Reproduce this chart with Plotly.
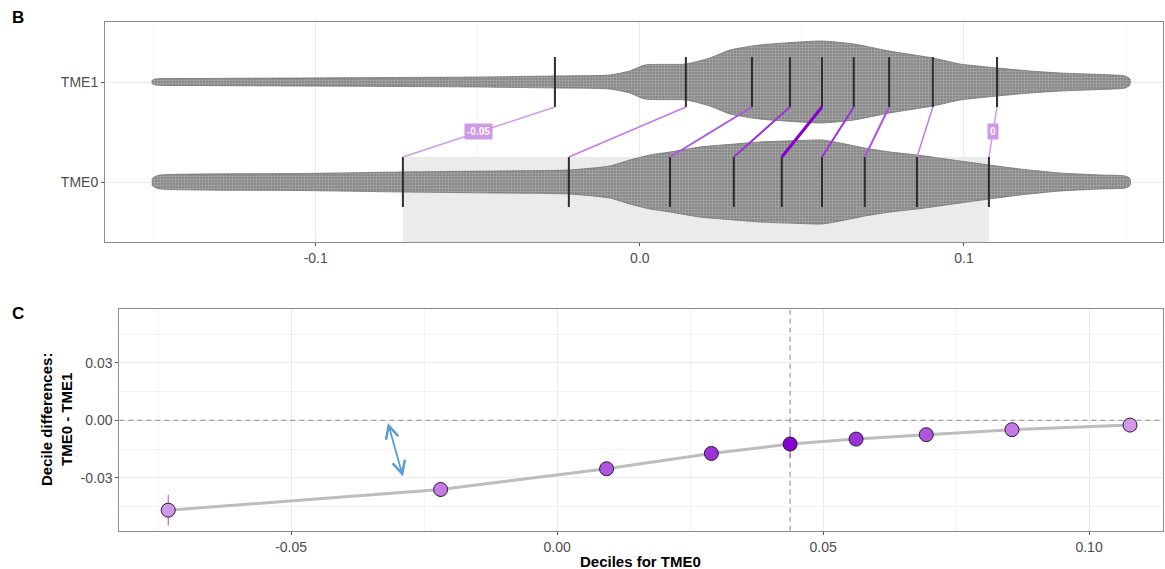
import plotly.graph_objects as go

# ---------------- data ----------------
decile_labels = ["1", "2", "3", "4", "5", "6", "7", "8", "9"]
tme0_deciles = [-0.0731, -0.0219, 0.0093, 0.0290, 0.0438, 0.0562, 0.0694, 0.0855, 0.1077]
tme1_deciles = [-0.0262, 0.0142, 0.0346, 0.0463, 0.0562, 0.0660, 0.0769, 0.0904, 0.1102]
ci_halfwidth = [0.008, 0.004, 0.003, 0.003, 0.007, 0.003, 0.003, 0.003, 0.003]
decile_colors = ['#D197E8', '#C47BE3', '#AE55DD', '#9B33D9', '#8500D1',
                 '#9B33D9', '#AE55DD', '#C47BE3', '#D197E8']
link_widths = [1.5, 1.5, 2, 2, 3, 2, 2, 1.5, 1.5]

groups = ["TME0", "TME1"]

# outline of the distributions (value, half-width in category units)
tme1_outline_x = [-0.1506, -0.1495, -0.1358, -0.1049, -0.0741, -0.0494, -0.0262, -0.0093, -0.0031,
                  0.0015, 0.0142, 0.0216, 0.0278, 0.0370, 0.0494, 0.0562, 0.0660, 0.0769,
                  0.0904, 0.0988, 0.1102, 0.1204, 0.1296, 0.1420, 0.1497, 0.1512]
tme1_outline_w = [0.015, 0.03, 0.035, 0.04, 0.045, 0.05, 0.06, 0.07, 0.11,
                  0.17, 0.18, 0.24, 0.32, 0.37, 0.40, 0.41, 0.38, 0.31,
                  0.24, 0.18, 0.14, 0.11, 0.09, 0.075, 0.06, 0.03]
tme0_outline_x = [-0.1506, -0.1495, -0.1480, -0.1358, -0.1049, -0.0731, -0.0432, -0.0219, -0.0093,
                  -0.0031, 0.0031, 0.0093, 0.0185, 0.0293, 0.0370, 0.0494, 0.0562, 0.0633,
                  0.0694, 0.0772, 0.0855, 0.0988, 0.1077, 0.1173, 0.1296, 0.1420, 0.1497, 0.1512]
tme0_outline_w = [0.03, 0.055, 0.07, 0.08, 0.085, 0.10, 0.11, 0.12, 0.16,
                  0.22, 0.27, 0.30, 0.35, 0.38, 0.40, 0.415, 0.42, 0.38,
                  0.34, 0.30, 0.27, 0.21, 0.17, 0.13, 0.09, 0.07, 0.06, 0.035]

decile_diff = [a - b for a, b in zip(tme0_deciles, tme1_deciles)]

# axis ranges
top_xrange = [-0.165, 0.1614]
top_yrange = [0.4, 2.6]
bot_xrange = [-0.0823, 0.1139]
bot_yrange = [-0.0576, 0.0579]

# ---------------- figure ----------------
fig = go.Figure()

FONT = "Liberation Sans, Arial, sans-serif"
TICK_FONT = dict(family=FONT, size=14, color="#4D4D4D")
GRID = "#EBEBEB"
MINOR = "#F4F4F4"
BORDER = "#8C8C8C"

# shaded rectangle between extreme TME0 deciles
fig.add_trace(go.Scatter(
    x=[tme0_deciles[0], tme0_deciles[-1], tme0_deciles[-1], tme0_deciles[0], tme0_deciles[0]],
    y=[top_yrange[0], top_yrange[0], 1.25, 1.25, top_yrange[0]],
    mode="lines", fill="toself", fillcolor="#EBEBEB", line=dict(width=0),
    hoverinfo="skip", showlegend=False, xaxis="x", yaxis="y"))


def blob(xs, ws, center):
    px = list(xs) + list(reversed(xs))
    py = [center + w for w in ws] + [center - w for w in reversed(ws)]
    return px, py


for xs, ws, c in [(tme1_outline_x, tme1_outline_w, 2), (tme0_outline_x, tme0_outline_w, 1)]:
    px, py = blob(xs, ws, c)
    fig.add_trace(go.Scatter(
        x=px, y=py, mode="lines", fill="toself",
        fillcolor="#8a8a8a",
        fillpattern=dict(shape=".", bgcolor="#7e7e7e", fgcolor="#d2d2d2", size=3, solidity=0.5),
        line=dict(color="#6e6e6e", width=0.8, shape="spline", smoothing=0.6),
        hoverinfo="skip", showlegend=False, xaxis="x", yaxis="y"))

# decile lines
for vals, c in [(tme1_deciles, 2), (tme0_deciles, 1)]:
    lx, ly = [], []
    for v in vals:
        lx += [v, v, None]
        ly += [c - 0.25, c + 0.25, None]
    fig.add_trace(go.Scatter(x=lx, y=ly, mode="lines", line=dict(color="#2E2E2E", width=2),
                             hoverinfo="skip", showlegend=False, xaxis="x", yaxis="y"))

# linking lines
for i in range(len(tme0_deciles)):
    fig.add_trace(go.Scatter(x=[tme1_deciles[i], tme0_deciles[i]], y=[1.75, 1.25], mode="lines",
                             line=dict(color=decile_colors[i], width=link_widths[i]),
                             hoverinfo="skip", showlegend=False, xaxis="x", yaxis="y"))


def fmt(d):
    r = round(d, 2)
    if abs(r) < 1e-9:
        return "0"
    return f"{r:g}"


for i in (0, len(tme0_deciles) - 1):
    fig.add_annotation(x=(tme0_deciles[i] + tme1_deciles[i]) / 2, y=1.5, xref="x", yref="y",
                       text="<b>" + fmt(decile_diff[i]) + "</b>", showarrow=False,
                       font=dict(family=FONT, size=10, color="white"),
                       bgcolor=decile_colors[i], borderpad=2)

# ---------------- panel C ----------------
fig.add_trace(go.Scatter(x=bot_xrange, y=[0, 0], mode="lines",
                         line=dict(color="#A0A0A0", width=1.3, dash="5px,4px"),
                         hoverinfo="skip", showlegend=False, xaxis="x2", yaxis="y2"))
fig.add_trace(go.Scatter(x=[tme0_deciles[4], tme0_deciles[4]], y=bot_yrange, mode="lines",
                         line=dict(color="#A0A0A0", width=1.3, dash="5px,4px"),
                         hoverinfo="skip", showlegend=False, xaxis="x2", yaxis="y2"))
fig.add_trace(go.Scatter(x=tme0_deciles, y=decile_diff, mode="lines",
                         line=dict(color="#BDBDBD", width=3),
                         hoverinfo="skip", showlegend=False, xaxis="x2", yaxis="y2"))
cx, cy = [], []
for x, d, ci in zip(tme0_deciles, decile_diff, ci_halfwidth):
    cx += [x, x, None]
    cy += [d - ci, d + ci, None]
fig.add_trace(go.Scatter(x=cx, y=cy, mode="lines", line=dict(color="#A050D0", width=1),
                         hoverinfo="skip", showlegend=False, xaxis="x2", yaxis="y2"))
fig.add_trace(go.Scatter(x=tme0_deciles, y=decile_diff, mode="markers",
                         marker=dict(color=decile_colors, size=14,
                                     line=dict(color="#2B1A33", width=1)),
                         text=decile_labels, showlegend=False, xaxis="x2", yaxis="y2"))

# blue double arrow
fig.add_annotation(x=-0.0318, y=-0.0014, ax=-0.0289, ay=-0.0301,
                   xref="x2", yref="y2", axref="x2", ayref="y2",
                   showarrow=True, arrowside="end+start", arrowhead=5, startarrowhead=5,
                   arrowsize=1.4, startarrowsize=1.4, arrowwidth=1.8, arrowcolor="#5B9BD5", text="")

# panel letters and titles
fig.add_annotation(x=18 / 1165, y=1 - 18 / 569, xref="paper", yref="paper", text="<b>B</b>",
                   xanchor="center", yanchor="middle", showarrow=False,
                   font=dict(family=FONT, size=17, color="black"))
fig.add_annotation(x=18 / 1165, y=1 - 313 / 569, xref="paper", yref="paper", text="<b>C</b>",
                   xanchor="center", yanchor="middle", showarrow=False,
                   font=dict(family=FONT, size=17, color="black"))
fig.add_annotation(x=641 / 1165, y=1 - 561 / 569, xref="paper", yref="paper",
                   xanchor="center", yanchor="middle",
                   text="<b>Deciles for TME0</b>", showarrow=False,
                   font=dict(family=FONT, size=15, color="black"))
fig.add_annotation(x=56 / 1165, y=1 - 420 / 569, xref="paper", yref="paper",
                   xanchor="center", yanchor="middle",
                   text="<b>Decile differences:<br>TME0 - TME1</b>", showarrow=False, textangle=-90,
                   font=dict(family=FONT, size=15, color="black"))

axis_common = dict(showline=True, mirror=True, linecolor=BORDER, linewidth=1,
                   ticks="outside", ticklen=3, tickcolor="#555", tickfont=TICK_FONT,
                   showgrid=True, gridcolor=GRID, gridwidth=1, zeroline=False)

fig.update_layout(
    width=1165, height=569,
    margin=dict(l=0, r=0, t=0, b=0),
    paper_bgcolor="white", plot_bgcolor="white",
    font=dict(family=FONT),
    xaxis=dict(domain=[105 / 1165, 1163 / 1165], range=top_xrange,
               tickvals=[-0.1, 0.0, 0.1], ticktext=["-0.1", "0.0", "0.1"],
               minor=dict(dtick=0.05, tick0=0, showgrid=True, gridcolor=MINOR),
               anchor="y", **axis_common),
    yaxis=dict(domain=[1 - 242 / 569, 1 - 22 / 569], range=top_yrange,
               tickvals=[1, 2], ticktext=groups, anchor="x", **axis_common),
    xaxis2=dict(domain=[119.3 / 1165, 1163 / 1165], range=bot_xrange,
                tickvals=[-0.05, 0.0, 0.05, 0.10], ticktext=["-0.05", "0.00", "0.05", "0.10"],
                minor=dict(dtick=0.025, tick0=0, showgrid=True, gridcolor=MINOR),
                anchor="y2", **axis_common),
    yaxis2=dict(domain=[1 - 530.7 / 569, 1 - 309.3 / 569], range=bot_yrange,
                tickvals=[-0.03, 0.0, 0.03], ticktext=["-0.03", "0.00", "0.03"],
                minor=dict(dtick=0.015, tick0=0, showgrid=True, gridcolor=MINOR),
                anchor="x2", **axis_common),
)

fig.write_html("out.html", config={"displayModeBar": False},
               post_script="document.body.style.margin='0px';")
